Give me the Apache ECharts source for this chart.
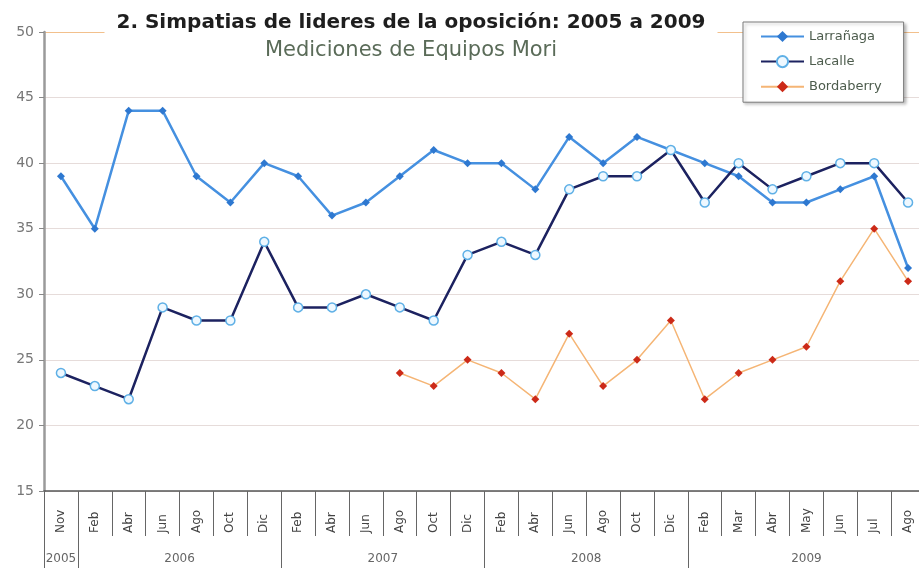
<!DOCTYPE html>
<html lang="es">
<head>
  <meta charset="UTF-8">
  <title>Simpatias de lideres de la oposición: 2005 a 2009</title>
  <script src="https://cdn.jsdelivr.net/npm/echarts@6/dist/echarts.min.js"></script>
  <style>
    html, body { margin: 0; padding: 0; background: #fff; }
    #chart { width: 919px; height: 568px; }
  </style>
</head>
<body>
  <div id="chart"></div>
  <script>
    // survey months, Nov 2005 to Ago 2009
    const months = ['Nov', 'Feb', 'Abr', 'Jun', 'Ago', 'Oct', 'Dic', 'Feb', 'Abr', 'Jun', 'Ago', 'Oct', 'Dic',
      'Feb', 'Abr', 'Jun', 'Ago', 'Oct', 'Dic', 'Feb', 'Mar', 'Abr', 'May', 'Jun', 'Jul', 'Ago'];

    const larranaga = [39, 35, 44, 44, 39, 37, 40, 39, 36, 37, 39, 41, 40, 40, 38, 42, 40, 42, 41, 40, 39, 37, 37, 38, 39, 32];
    const lacalle = [24, 23, 22, 29, 28, 28, 34, 29, 29, 30, 29, 28, 33, 34, 33, 38, 39, 39, 41, 37, 40, 38, 39, 40, 40, 37];
    const bordaberry = [null, null, null, null, null, null, null, null, null, null,
      24, 23, 25, 24, 22, 27, 23, 25, 28, 22, 24, 25, 26, 31, 35, 31];

    // year groups under the month labels: label and index of its first month
    const years = ['2005', '2006', '2007', '2008', '2009'];
    const yearStart = [0, 1, 7, 13, 19];

    const font = 'DejaVu Sans';

    // centre of each year group, in category units (0 = left edge of first month)
    const yearCenters = yearStart.map((s, i) => {
      const end = i < yearStart.length - 1 ? yearStart[i + 1] : months.length;
      return (s + end) / 2;
    });

    const chart = echarts.init(document.getElementById('chart'));

    const option = {
      animation: false,
      backgroundColor: '#fff',
      title: {
        text: '2. Simpatias de lideres de la oposición: 2005 a 2009',
        subtext: 'Mediciones de Equipos Mori',
        left: 399,
        top: 9,
        textAlign: 'center',
        padding: [4, 12, 4, 12],
        itemGap: 7,
        backgroundColor: '#fff',
        textStyle: { fontFamily: font, fontWeight: 'bold', fontSize: 20, color: '#1e1e1e' },
        subtextStyle: { fontFamily: font, fontSize: 21, color: '#5a6b58' }
      },
      legend: {
        data: ['Larrañaga', 'Lacalle', 'Bordaberry'],
        orient: 'vertical',
        left: 743,
        top: 22,
        padding: [8, 22, 9, 17],
        itemGap: 12,
        itemWidth: 43,
        itemHeight: 14,
        backgroundColor: '#fff',
        borderColor: '#7a7a7a',
        borderWidth: 1,
        shadowColor: 'rgba(0,0,0,0.25)',
        shadowBlur: 3,
        shadowOffsetX: 2,
        shadowOffsetY: 2,
        textStyle: { fontFamily: font, fontSize: 13, color: '#4d5c4d' }
      },
      grid: {
        left: 44,
        right: -6,
        top: 32,
        bottom: 77,
        outerBoundsMode: 'none'
      },
      xAxis: [
        {
          // month labels with separators between them
          type: 'category',
          data: months,
          boundaryGap: true,
          position: 'bottom',
          axisLine: { lineStyle: { color: '#555', width: 1.5 } },
          axisTick: { show: true, interval: 0, length: 45, lineStyle: { color: '#666' } },
          axisLabel: {
            interval: 0, rotate: 90, align: 'left', margin: 42,
            fontFamily: font, fontSize: 12, color: '#444'
          },
          splitLine: { show: false }
        },
        {
          // long separators between years
          type: 'category',
          data: months,
          boundaryGap: true,
          position: 'bottom',
          axisLine: { show: false },
          axisTick: {
            show: true,
            interval: (idx) => yearStart.indexOf(idx) >= 0,
            length: 77,
            lineStyle: { color: '#666' }
          },
          axisLabel: { show: false },
          splitLine: { show: false }
        },
        {
          // year labels, centred under each group
          type: 'value',
          min: 0,
          max: months.length,
          interval: 0.5,
          position: 'bottom',
          axisLine: { show: false, onZero: false },
          axisTick: { show: false },
          splitLine: { show: false },
          axisLabel: {
            margin: 62,
            fontFamily: font, fontSize: 12, color: '#666',
            formatter: (v) => {
              const i = yearCenters.indexOf(v);
              return i >= 0 ? years[i] : '';
            }
          }
        }
      ],
      yAxis: {
        type: 'value',
        min: 15,
        max: 50,
        interval: 5,
        axisLine: { show: true, onZero: false, lineStyle: { color: '#9a9a9a', width: 2.5 } },
        axisTick: { show: true, length: 5, lineStyle: { color: '#888' } },
        axisLabel: { fontFamily: font, fontSize: 14, color: '#777', margin: 10 },
        splitLine: {
          show: true,
          lineStyle: {
            color: ['#e6dcda', '#e6dcda', '#e6dcda', '#e6dcda', '#e6dcda', '#e6dcda', '#e6dcda', '#f2c08c'],
            width: 1
          }
        }
      },
      series: [
        {
          name: 'Larrañaga',
          type: 'line',
          data: larranaga,
          symbol: 'diamond',
          symbolSize: 8,
          lineStyle: { color: '#4590e0', width: 2.5 },
          itemStyle: { color: '#2e78d0' }
        },
        {
          name: 'Lacalle',
          type: 'line',
          data: lacalle,
          symbol: 'circle',
          symbolSize: 9,
          lineStyle: { color: '#1c2260', width: 2.5 },
          itemStyle: { color: '#eef8ff', borderColor: '#5fb0e6', borderWidth: 1.5 }
        },
        {
          name: 'Bordaberry',
          type: 'line',
          data: bordaberry,
          symbol: 'diamond',
          symbolSize: 8,
          lineStyle: { color: '#f5b575', width: 1.5 },
          itemStyle: { color: '#cc2a18' }
        }
      ]
    };

    chart.setOption(option);
  </script>
</body>
</html>
